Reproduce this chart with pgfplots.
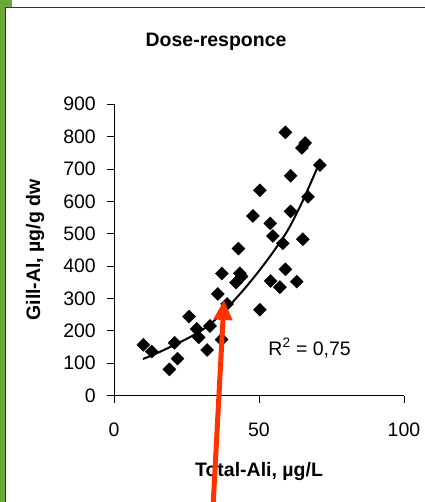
\documentclass[border=0pt]{standalone}
\usepackage{fontspec}
\setmainfont{Liberation Sans}
\usepackage{pgfplots}
\pgfplotsset{compat=1.18}
\usetikzlibrary{arrows.meta}
\definecolor{framegreen}{RGB}{106,168,58}
\definecolor{arrowred}{RGB}{255,51,0}

\begin{document}
\begin{tikzpicture}
\useasboundingbox (0,0) rectangle (425bp,502bp);
\fill[white] (0,0) rectangle (425bp,502bp);
\fill[framegreen] (0,0) rectangle (4.5bp,502bp);
\fill[framegreen] (0,494.5bp) rectangle (12.3bp,502bp);
\draw[black!80, line width=1.2bp] (5.1bp,0) -- (5.1bp,494.5bp) -- (425bp,494.5bp);

\begin{axis}[
  at={(114bp,106.4bp)}, anchor=south west,
  scale only axis, width=290bp, height=291.4bp,
  xmin=0, xmax=100, ymin=0, ymax=900,
  axis lines=left, axis line style={-, line width=0.9bp},
  xtick={0,50,100}, ytick={0,100,...,900},
  tick align=outside, major tick length=7bp,
  tick style={black, line width=0.9bp},
  /pgf/number format/assume math mode=true,
  tick label style={font=\fontsize{19.5bp}{22bp}\selectfont},
  yticklabel style={anchor=east, inner sep=0pt, xshift=-11bp},
  xticklabel style={anchor=north, inner sep=0pt, yshift=-20bp},
  label style={font=\bfseries\fontsize{19.5bp}{22bp}\selectfont},
  xlabel={Total-Ali, µg/L},
  xlabel style={at={(axis description cs:0.5,-0.276)}, anchor=base, inner sep=0pt},
  ylabel={Gill-Al, µg/g dw},
  ylabel style={at={(axis description cs:-0.272,0.5)}, anchor=center, inner sep=0pt},
  title={Dose-responce},
  every axis title shift=0pt,
  title style={font=\bfseries\fontsize{19.5bp}{22bp}\selectfont, at={(axis description cs:0.352,1.198)}, anchor=base, inner sep=0pt},
  clip=false,
]
\addplot[only marks, mark=square*, mark size=4.6bp, mark options={rotate=45, fill=black, draw=black}]
coordinates {
 (59.1,813) (65.9,780) (64.8,765) (71.0,712) (60.9,679)
 (50.3,634) (66.9,614) (60.9,569) (47.9,555) (53.9,532)
 (54.8,493) (58.2,470) (65.1,483) (42.9,454) (59.1,390)
 (37.2,377) (43.4,378) (44.0,368) (42.1,349) (54.0,354)
 (57.2,335) (63.0,352) (35.8,314) (39.0,283) (50.3,265)
 (25.9,244) (10.1,157) (13.0,136) (20.9,163) (21.9,114)
 (19.1,81)  (28.5,206) (29.2,180) (33.1,215) (32.1,141)
 (37.1,173)
};
\addplot[black, line width=2bp, smooth]
coordinates {
 (10,113) (13,124) (17,140) (20,153) (25,175) (30,200) (35,235)
 (40,280) (45,330) (50,385) (55,445) (60,512) (65,600) (71,722)
};
\node[anchor=base west, inner sep=0pt, font=\fontsize{19.5bp}{22bp}\selectfont]
  at (axis cs:53.2,125) {R\textsuperscript{2} = 0,75};
\end{axis}

\draw[arrowred, line width=5bp, -{Triangle[width=18bp,length=20bp]}]
  (213.3bp,0) -- (224bp,202bp);
\end{tikzpicture}
\end{document}
